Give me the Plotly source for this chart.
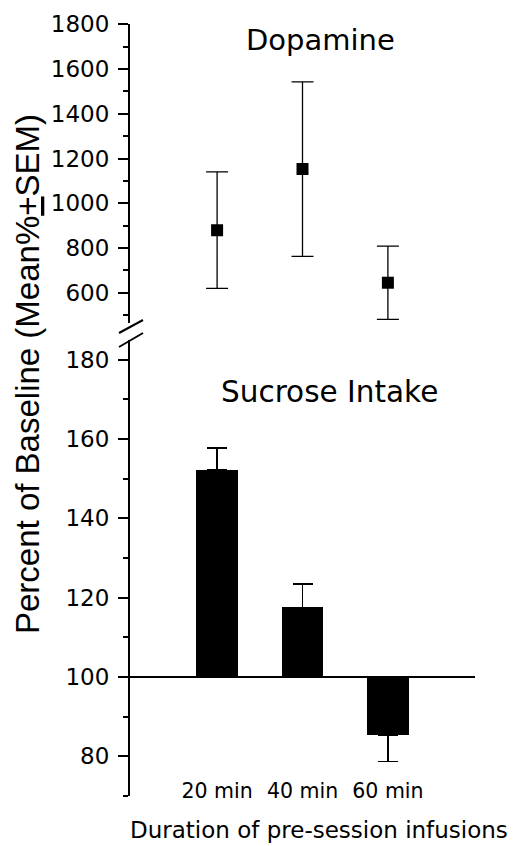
import plotly.graph_objects as go

W, H = 519, 846

# ---- data ----
durations = ["20 min", "40 min", "60 min"]
x_pos = [0, 1, 2]

dopamine_mean = [880, 1153, 645]
dopamine_sem = [260, 390, 164]

sucrose_mean = [152.3, 117.6, 85.3]
sucrose_sem = [5.5, 5.9, 6.6]
BASELINE = 100

top_ticks = [600, 800, 1000, 1200, 1400, 1600, 1800]
bottom_ticks = [80, 100, 120, 140, 160, 180]

# ---- geometry helpers (pixel -> paper) ----
def px_x(p):
    return p / W

def px_y(p):
    return (H - p) / H

TICKFONT = dict(family="DejaVu Sans", size=23, color="black")
XRANGE = [-1.02, 3.02]

fig = go.Figure()

# Dopamine points
fig.add_trace(go.Scatter(
    x=x_pos, y=dopamine_mean, mode="markers",
    marker=dict(symbol="square", size=12, color="black"),
    error_y=dict(type="data", array=dopamine_sem, visible=True,
                 color="black", thickness=1.3, width=11),
    xaxis="x", yaxis="y", showlegend=False,
))

# Sucrose bars (relative to baseline)
up = [s if m >= BASELINE else 0 for m, s in zip(sucrose_mean, sucrose_sem)]
down = [s if m < BASELINE else 0 for m, s in zip(sucrose_mean, sucrose_sem)]
fig.add_trace(go.Bar(
    x=x_pos, y=[m - BASELINE for m in sucrose_mean], base=BASELINE,
    width=0.49, marker=dict(color="black", line=dict(width=0)),
    error_y=dict(type="data", symmetric=False, array=up, arrayminus=down,
                 visible=True, color="black", thickness=1.3, width=10),
    xaxis="x2", yaxis="y2", showlegend=False,
))

axis_common = dict(showgrid=False, zeroline=False, showline=True,
                   linecolor="black", linewidth=2, ticks="outside",
                   ticklen=10, tickwidth=2, tickcolor="black",
                   tickfont=TICKFONT, ticklabelstandoff=4, automargin=False)

fig.update_layout(
    width=W, height=H,
    margin=dict(l=0, r=0, t=0, b=0),
    paper_bgcolor="white", plot_bgcolor="white",
    showlegend=False,
    bargap=0,
    xaxis=dict(domain=[px_x(130), px_x(475)], range=XRANGE, anchor="y",
               showline=False, showgrid=False, zeroline=False,
               showticklabels=False, ticks=""),
    xaxis2=dict(domain=[px_x(130), px_x(475)], range=XRANGE, anchor="free",
                position=px_y(776), showline=False, showgrid=False,
                zeroline=False, ticks="", tickmode="array",
                tickvals=x_pos, ticktext=durations,
                tickfont=dict(family="DejaVu Sans", size=20.5, color="black"),
                automargin=False),
    yaxis=dict(domain=[px_y(323), px_y(24.3)], range=[465, 1800],
               tickmode="array", tickvals=top_ticks, anchor="x",
               minor=dict(dtick=100, tick0=0, ticks="outside", ticklen=5,
                          tickwidth=2, tickcolor="black"),
               **axis_common),
    yaxis2=dict(domain=[px_y(796), px_y(340)], range=[70, 185],
                tickmode="array", tickvals=bottom_ticks, anchor="x2",
                minor=dict(dtick=10, tick0=0, ticks="outside", ticklen=5,
                           tickwidth=2, tickcolor="black"),
                **axis_common),
)

# baseline line at 100
fig.add_shape(type="line", xref="x2 domain", yref="y2",
              x0=0, x1=1, y0=BASELINE, y1=BASELINE,
              line=dict(color="black", width=2))

# axis break marks
for (x0, y0, x1, y1) in [(119, 333, 143, 320), (119, 347, 143, 333)]:
    fig.add_shape(type="line", xref="paper", yref="paper",
                  x0=px_x(x0), y0=px_y(y0), x1=px_x(x1), y1=px_y(y1),
                  line=dict(color="black", width=2))

# texts
fig.add_annotation(text="Dopamine", xref="paper", yref="paper",
                   x=px_x(320), y=px_y(40), showarrow=False,
                   xanchor="center", yanchor="middle",
                   font=dict(family="DejaVu Sans", size=29, color="black"))
fig.add_annotation(text="Sucrose Intake", xref="paper", yref="paper",
                   x=px_x(329), y=px_y(392), showarrow=False,
                   xanchor="center", yanchor="middle",
                   font=dict(family="DejaVu Sans", size=29.5, color="black"))
fig.add_annotation(text="Percent of Baseline (Mean%<u>+</u>SEM)",
                   xref="paper", yref="paper",
                   x=px_x(27), y=px_y(374), showarrow=False, textangle=-90,
                   xanchor="center", yanchor="middle",
                   font=dict(family="Liberation Sans", size=33, color="black"))
fig.add_annotation(text="Duration of pre-session infusions",
                   xref="paper", yref="paper",
                   x=px_x(319), y=px_y(830), showarrow=False,
                   xanchor="center", yanchor="middle",
                   font=dict(family="DejaVu Sans", size=23, color="black"))

fig.write_html("out.html")
